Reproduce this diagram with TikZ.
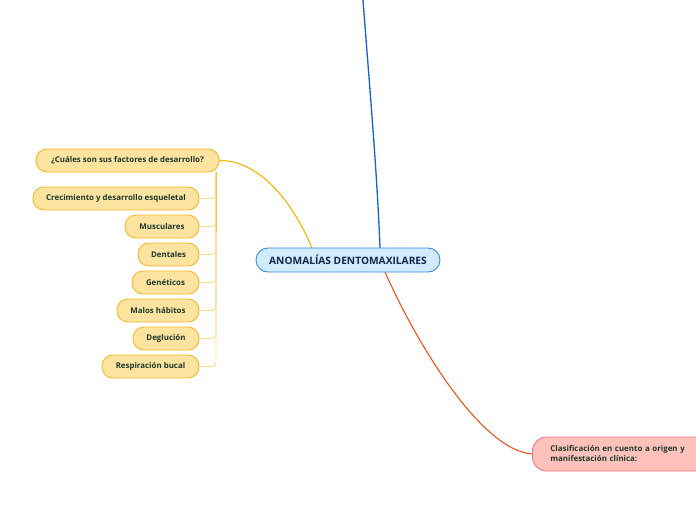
\documentclass[tikz,border=0pt]{standalone}
\usepackage{fontspec}
\setmainfont{Open Sans}
\pgfdeclarelayer{bg}
\pgfsetlayers{bg,main}
\begin{document}
\begin{tikzpicture}[x=1pt,y=1pt,
  txt/.style={font=\bfseries\fontsize{7.9}{10}\selectfont, text=textgreen},
  factorbox/.style={txt, draw=factorborder, fill=factorfill, line width=0.9pt, rounded corners=11pt, minimum height=23pt, inner sep=0pt},
  centralbox/.style={draw=centralborder, fill=centralfill, line width=0.9pt, rounded corners=12pt, minimum height=24pt, minimum width=184pt, inner sep=0pt, font=\bfseries\fontsize{10.2}{12}\selectfont, text=centraltext},
  pinkbox/.style={txt, draw=pinkborder, fill=pinkfill, line width=0.9pt, rounded corners=14pt, minimum height=34pt, inner sep=0pt},
  branch/.style={draw=branchcol, line width=0.9pt, rounded corners=4pt},
]
\definecolor{textgreen}{HTML}{1C3A2C}
\definecolor{factorborder}{HTML}{F7B926}
\definecolor{factorfill}{HTML}{FDE3A0}
\definecolor{centralborder}{HTML}{3C8AD6}
\definecolor{centralfill}{HTML}{CFEBFC}
\definecolor{centraltext}{HTML}{14284A}
\definecolor{pinkborder}{HTML}{F07585}
\definecolor{pinkfill}{HTML}{FFC2BA}
\definecolor{branchcol}{HTML}{FDDB90}
\definecolor{trunkcol}{HTML}{F9C545}
\definecolor{orangeline}{HTML}{F7B500}
\definecolor{blueline}{HTML}{1461D2}
\definecolor{redline}{HTML}{F0541E}

\useasboundingbox (0,0) rectangle (696,-520);
\clip (0,0) rectangle (696,-520);

\coordinate (top) at (363,0);
\node[centralbox] (c) at (348,-260) {ANOMALÍAS DENTOMAXILARES};
\node[factorbox, minimum width=183pt] (f) at (127.5,-160.5) {¿Cuáles son sus factores de desarrollo?};
\node[pinkbox, anchor=west, align=left, text width=190pt] (p) at (532,-454) {\hspace*{18pt}Clasificación en cuento a origen y\\\hspace*{18pt}manifestación clínica:};

\node[factorbox, minimum width=166pt] (n1) at (116,-198.5) {Crecimiento y desarrollo esqueletal};
\node[factorbox, minimum width=74pt] (n2) at (162,-226.5) {Musculares};
\node[factorbox, minimum width=61pt] (n3) at (168.5,-254.5) {Dentales};
\node[factorbox, minimum width=67pt] (n4) at (165.5,-282.5) {Genéticos};
\node[factorbox, minimum width=82pt] (n5) at (158,-310.5) {Malos hábitos};
\node[factorbox, minimum width=66pt] (n6) at (166,-338.5) {Deglución};
\node[factorbox, minimum width=97pt] (n7) at (150.5,-366.5) {Respiración bucal};

\begin{pgfonlayer}{bg}
\fill[white] (0,0) rectangle (696,-520);
\coordinate (ft) at (216,-172);
\foreach \n in {n1,n2,n3,n4,n5,n6,n7}{
  \draw[branch] (ft) |- (\n.east);
}
\draw[trunkcol, line width=1pt] (ft) -- ++(0,-60);
\draw[orangeline, line width=1.1pt] (f.east) .. controls (258,-160) and (292,-200) .. (312,-248);
\draw[blueline, line width=1.3pt] (top) .. controls (369,-80) and (377,-170) .. (380,-248);
\draw[redline, line width=1.1pt] (385,-272) .. controls (415,-340) and (480,-450) .. (p.west);
\end{pgfonlayer}
\end{tikzpicture}
\end{document}
